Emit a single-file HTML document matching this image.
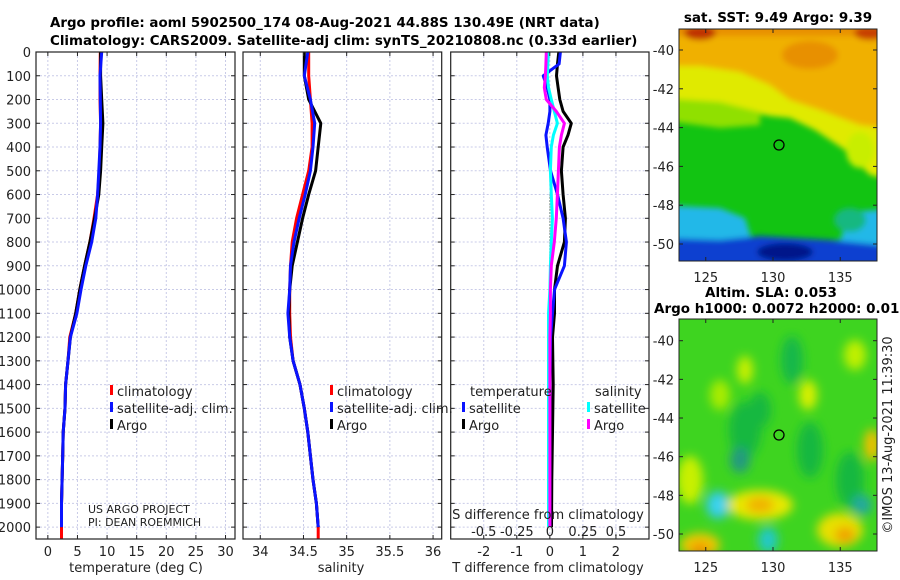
<!DOCTYPE html>
<html><head><meta charset="utf-8"><style>
html,body{margin:0;padding:0;background:#fff;}
svg{display:block;font-family:"DejaVu Sans","Liberation Sans",sans-serif;}
</style></head><body>
<svg id="fig" width="900" height="580" viewBox="0 0 900 580">
<defs>
<filter id="blur1" x="-20%" y="-20%" width="140%" height="140%"><feGaussianBlur stdDeviation="3"/></filter>
<filter id="blur2" x="-30%" y="-30%" width="160%" height="160%"><feGaussianBlur stdDeviation="5"/></filter>
<clipPath id="clipTop"><rect x="679" y="29" width="198" height="232"/></clipPath>
<clipPath id="clipBot"><rect x="679" y="319" width="198" height="232"/></clipPath>
</defs>
<g font-weight="bold" font-size="13.4">
<text x="50" y="27">Argo profile: aoml 5902500_174 08-Aug-2021 44.88S 130.49E (NRT data)</text>
<text x="50" y="45">Climatology: CARS2009. Satellite-adj clim: synTS_20210808.nc (0.33d earlier)</text>
</g>

<!-- SST map -->
<g clip-path="url(#clipTop)">
<rect x="679" y="29" width="198" height="232" fill="#12c412"/>
<g filter="url(#blur1)">
<polygon points="660,10 900,10 900,182 870,175 845,150 815,130 790,118 770,116 740,110 700,104 660,104" fill="#e0ea00"/>
<polygon points="660,10 900,10 900,130 860,125 820,110 790,100 770,85 740,72 700,66 660,66" fill="#f0b000"/>
<polygon points="660,10 900,10 900,36 660,36" fill="#e89000"/>
<ellipse cx="700" cy="33" rx="16" ry="7" fill="#c03000"/>
<ellipse cx="870" cy="33" rx="16" ry="7" fill="#c84000"/>
<ellipse cx="810" cy="55" rx="28" ry="14" fill="#e89000"/>
<polygon points="660,98 720,102 760,112 760,125 720,128 660,120" fill="#90e000"/>
<ellipse cx="860" cy="150" rx="14" ry="18" fill="#c8ee00"/>
<polygon points="660,205 720,208 745,218 752,240 840,240 850,212 900,208 900,280 660,280" fill="#20b8e8"/>
<polygon points="660,238 720,240 760,236 830,240 900,247 900,280 660,280" fill="#1040d0"/>
<ellipse cx="785" cy="252" rx="28" ry="9" fill="#00188a"/>
<ellipse cx="850" cy="220" rx="16" ry="12" fill="#18b880"/>
</g>
</g>
<rect x="679" y="29" width="198" height="232" fill="none" stroke="#222" stroke-width="1"/>
<circle cx="779" cy="145" r="5" fill="none" stroke="#000" stroke-width="1.3"/>
<text x="778" y="22" font-size="13.5" font-weight="bold" text-anchor="middle">sat. SST: 9.49 Argo: 9.39</text>

<!-- SLA map -->
<g clip-path="url(#clipBot)">
<rect x="679" y="319" width="198" height="232" fill="#3ed420"/>
<g filter="url(#blur2)">
<ellipse cx="745" cy="430" rx="16" ry="28" fill="#12b840"/>
<ellipse cx="792" cy="360" rx="11" ry="24" fill="#14b84a"/>
<ellipse cx="740" cy="460" rx="10" ry="13" fill="#209a80"/>
<ellipse cx="810" cy="450" rx="13" ry="28" fill="#14b840"/>
<ellipse cx="760" cy="410" rx="11" ry="18" fill="#14b840"/>
<ellipse cx="850" cy="480" rx="14" ry="28" fill="#14b840"/>
<ellipse cx="718" cy="505" rx="12" ry="14" fill="#30c8e8"/>
<ellipse cx="718" cy="505" rx="6" ry="7" fill="#40d8f0"/>
<ellipse cx="768" cy="540" rx="10" ry="13" fill="#20c8c8"/>
<ellipse cx="862" cy="505" rx="10" ry="10" fill="#20a8a0"/>
<ellipse cx="690" cy="480" rx="13" ry="24" fill="#c8f000"/>
<ellipse cx="760" cy="505" rx="33" ry="15" fill="#e8e800"/>
<ellipse cx="760" cy="505" rx="14" ry="8" fill="#f0b000"/>
<ellipse cx="700" cy="545" rx="20" ry="12" fill="#f0c800"/>
<ellipse cx="700" cy="550" rx="10" ry="7" fill="#f09000"/>
<ellipse cx="840" cy="530" rx="23" ry="17" fill="#e8e000"/>
<ellipse cx="845" cy="535" rx="10" ry="8" fill="#f0a000"/>
<ellipse cx="872" cy="445" rx="8" ry="16" fill="#f0c000"/>
<ellipse cx="808" cy="395" rx="9" ry="15" fill="#d8f000"/>
<ellipse cx="745" cy="370" rx="8" ry="14" fill="#c8f000"/>
<ellipse cx="855" cy="355" rx="11" ry="15" fill="#c0f000"/>
<ellipse cx="720" cy="395" rx="10" ry="15" fill="#a8ec00"/>
</g>
</g>
<rect x="679" y="319" width="198" height="232" fill="none" stroke="#222" stroke-width="1"/>
<circle cx="779" cy="435" r="5" fill="none" stroke="#000" stroke-width="1.3"/>
<text x="771" y="297" font-size="13.5" font-weight="bold" text-anchor="middle">Altim. SLA: 0.053</text>
<text x="654" y="313" font-size="13.5" font-weight="bold">Argo h1000: 0.0072 h2000: 0.018</text>
<text transform="translate(892,435) rotate(-90)" font-size="13" text-anchor="middle" fill="#222">©IMOS 13-Aug-2021 11:39:30</text>
<g id="axes"></g>
</svg>
<script>
// ---- data ----
const depth = [0,100,200,300,400,500,600,700,800,900,1000,1100,1200,1300,1400,1500,1600,1700,1800,1900,2000];
const tClim = [8.85,8.8,8.8,8.9,8.8,8.7,8.4,7.8,7.1,6.2,5.4,4.7,3.7,3.4,3.0,2.9,2.6,2.5,2.4,2.3,2.3];
const tSat  = [9.1,8.8,8.85,8.9,8.8,8.6,8.4,8.1,7.4,6.4,5.6,4.9,3.8,3.4,3.0,2.9,2.6,2.5,2.4,2.3,2.3];
const tArgo = [8.9,8.9,9.1,9.3,9.1,8.9,8.6,7.9,7.1,6.2,5.4,4.7,3.8,3.4,3.0,2.9,2.6,2.5,2.4,2.3,2.3];
const sClim = [34.56,34.56,34.58,34.60,34.60,34.56,34.49,34.42,34.37,34.35,34.34,34.34,34.35,34.38,34.46,34.51,34.55,34.58,34.61,34.65,34.67];
const sSat  = [34.55,34.51,34.58,34.63,34.61,34.58,34.52,34.45,34.39,34.35,34.34,34.32,34.34,34.38,34.46,34.51,34.55,34.58,34.61,34.65,34.67];
const sArgo = [34.51,34.51,34.56,34.70,34.67,34.64,34.56,34.49,34.43,34.37,34.34,34.33,34.34,34.38,34.46,34.51,34.55,34.58,34.61,34.65,34.67];
const depthDiff = [0,50,100,150,200,250,300,350,400,500,600,700,800,900,1000,1100,1200,1400,1600,1800,2000];
const dTArgo = [0.27,0.23,0.2,0.25,0.3,0.4,0.65,0.55,0.4,0.35,0.4,0.47,0.44,0.23,0.14,0.14,0.08,0.1,0.08,0.06,0.05];
const dTSat  = [0.32,0.28,-0.2,-0.08,0,0,-0.05,-0.12,-0.08,0.02,0.23,0.4,0.5,0.44,0.14,0.08,0.02,0,0,0,0];
const dSArgo = [-0.027,-0.03,-0.034,-0.042,-0.027,0.049,0.11,0.087,0.072,0.065,0.057,0.049,0.034,0.011,0.004,0.004,0,0,0,0,0];
const dSSat  = [-0.011,-0.015,-0.019,-0.01,0.011,0.034,0.057,0.027,0.011,0.004,0.011,0.019,0.011,0.004,0,-0.01,-0.01,-0.01,-0.01,-0.01,-0.01];
const depthTicks = [0,100,200,300,400,500,600,700,800,900,1000,1100,1200,1300,1400,1500,1600,1700,1800,1900,2000];
const tTicks = [0,5,10,15,20,25,30];
const sTicks = [34,34.5,35,35.5,36];
const sTickLabels = ["34","34.5","35","35.5","36"];
const dTTicks = [-2,-1,0,1,2];
const dSTicks = [-0.5,-0.25,0,0.25,0.5];
const latTicks = [-40,-42,-44,-46,-48,-50];
const lonTicks = [125,130,135];

const NS="http://www.w3.org/2000/svg";
const root=document.getElementById('axes');
function mk(tag,attrs,parent){const e=document.createElementNS(NS,tag);for(const k in attrs)e.setAttribute(k,attrs[k]);(parent||root).appendChild(e);return e;}
const Y0=52,Y1=539,D0=0,D1=2050;
function yD(d){return Y0+(d-D0)/(D1-D0)*(Y1-Y0);}
function lin(a,b,p,q){return v=>p+(v-a)/(b-a)*(q-p);}
const panels=[
 {name:'temperature',x0:36,x1:235,fx:lin(-2,31.6,36,235)},
 {name:'salinity',x0:243,x1:441.7,fx:lin(33.8,36.1,243,441.7)},
 {name:'difference',x0:450.7,x1:649,fx:lin(-3,3,450.7,649)}
];
panels.forEach(p=>{
 const g=mk('g',{});
 
 
 p.g=g;
 depthTicks.forEach(d=>{const l=mk('line',{x1:p.x0,x2:p.x1,y1:yD(d),y2:yD(d),stroke:'#c9cbe8','stroke-width':1,'stroke-dasharray':'2,2'},g);
  });
});
function vgrid(p,ticks,fx){ticks.forEach(v=>{const x=fx(v);
 const l=mk('line',{x1:x,x2:x,y1:Y0,y2:Y1,stroke:'#c9cbe8','stroke-width':1,'stroke-dasharray':'2,2'},p.g);
 });}
vgrid(panels[0],tTicks,panels[0].fx);
vgrid(panels[1],sTicks,panels[1].fx);
vgrid(panels[2],dTTicks,panels[2].fx);
function line(p,xs,ds,fx,color,name,w){
 const pts=xs.map((v,i)=>fx(v).toFixed(1)+','+yD(ds[i]).toFixed(1)).join(' ');
 const pl=mk('polyline',{points:pts,fill:'none',stroke:color,'stroke-width':w||3,'stroke-linejoin':'round'},p.g);
 
}
const dExt=depth.concat([2050]);
line(panels[0],tClim.concat([tClim[tClim.length-1]]),dExt,panels[0].fx,'#ff0000','temperature-climatology-line');
line(panels[0],tArgo,depth,panels[0].fx,'#000000','temperature-argo-line');
line(panels[0],tSat,depth,panels[0].fx,'#0a14ff','temperature-satellite-line');
line(panels[1],sClim.concat([sClim[sClim.length-1]]),dExt,panels[1].fx,'#ff0000','salinity-climatology-line');
line(panels[1],sArgo,depth,panels[1].fx,'#000000','salinity-argo-line');
line(panels[1],sSat,depth,panels[1].fx,'#0a14ff','salinity-satellite-line');
const fT=panels[2].fx, fS=v=>fT(v*4);
const z=mk('line',{x1:fT(0),x2:fT(0),y1:yD(600),y2:yD(2000),stroke:'#335533','stroke-width':1,'stroke-dasharray':'1,2'},panels[2].g);

line(panels[2],dTArgo,depthDiff,fT,'#000000','t-diff-argo-line');
line(panels[2],dTSat,depthDiff,fT,'#0a14ff','t-diff-satellite-line');
line(panels[2],dSSat,depthDiff,fS,'#00ffff','s-diff-satellite-line');
line(panels[2],dSArgo,depthDiff,fS,'#ff00ff','s-diff-argo-line');
panels.forEach(p=>{
 const r=mk('rect',{x:p.x0,y:Y0,width:p.x1-p.x0,height:Y1-Y0,fill:'none',stroke:'#222','stroke-width':1.2},p.g);
 
 depthTicks.forEach(d=>{const y=yD(d);
  mk('line',{x1:p.x0,x2:p.x0+4,y1:y,y2:y,stroke:'#222'},p.g);
  mk('line',{x1:p.x1-4,x2:p.x1,y1:y,y2:y,stroke:'#222'},p.g);});
});
function xticks(p,ticks,labels,fx,ly){ticks.forEach((v,i)=>{const x=fx(v);
 mk('line',{x1:x,x2:x,y1:Y1-4,y2:Y1,stroke:'#222'},p.g);
 mk('line',{x1:x,x2:x,y1:Y0,y2:Y0+4,stroke:'#222'},p.g);
 const t=mk('text',{x:x,y:ly,'font-size':13,'text-anchor':'middle',fill:'#222'},p.g);t.textContent=labels[i];
 });}
xticks(panels[0],tTicks,tTicks.map(String),panels[0].fx,556);
xticks(panels[1],sTicks,sTickLabels,panels[1].fx,556);
xticks(panels[2],dTTicks,dTTicks.map(String),fT,556);
dSTicks.forEach(v=>{const t=mk('text',{x:fS(v),y:536,'font-size':13,'text-anchor':'middle',fill:'#222'},panels[2].g);t.textContent=String(v);
 });
depthTicks.forEach(d=>{const t=mk('text',{x:31,y:yD(d)+5,'font-size':13,'text-anchor':'end',fill:'#222'});t.textContent=String(d);
 });
function txt(x,y,s,name,opts){const t=mk('text',Object.assign({x:x,y:y,'font-size':13,fill:'#222'},opts||{}));t.textContent=s;
 return t;}
txt(136,572,'temperature (deg C)','temperature-axis-title',{'text-anchor':'middle'});
txt(341,572,'salinity','salinity-axis-title',{'text-anchor':'middle'});
txt(548,572,'T difference from climatology','t-diff-axis-title',{'text-anchor':'middle'});
txt(548,519,'S difference from climatology','s-diff-axis-title',{'text-anchor':'middle'});
txt(88,513,'US ARGO PROJECT','project-credit',{'font-size':11});
txt(88,526,'PI: DEAN ROEMMICH','pi-credit',{'font-size':11});
function legend(x,y,color,label,name){
 const g=mk('g',{});
 mk('rect',{x:x,y:y-11,width:3,height:10,fill:color},g);
 const t=mk('text',{x:x+7,y:y,'font-size':13,fill:'#222'},g);t.textContent=label;}
legend(110,396,'#ff0000','climatology','legend-temperature-climatology');
legend(110,413,'#0a14ff','satellite-adj. clim.','legend-temperature-satellite');
legend(110,430,'#000000','Argo','legend-temperature-argo');
legend(330,396,'#ff0000','climatology','legend-salinity-climatology');
legend(330,413,'#0a14ff','satellite-adj. clim.','legend-salinity-satellite');
legend(330,430,'#000000','Argo','legend-salinity-argo');
txt(470,396,'temperature','legend-diff-temperature-header');
legend(462,413,'#0a14ff','satellite','legend-diff-t-satellite');
legend(462,430,'#000000','Argo','legend-diff-t-argo');
txt(595,396,'salinity','legend-diff-salinity-header');
legend(587,413,'#00ffff','satellite','legend-diff-s-satellite');
legend(587,430,'#ff00ff','Argo','legend-diff-s-argo');
function mapAxes(top,lat0y,latStep,labelY,nm){
 latTicks.forEach(v=>{const y=lat0y+(-40-v)*latStep;
  mk('line',{x1:679,x2:683,y1:y,y2:y,stroke:'#222'});mk('line',{x1:873,x2:877,y1:y,y2:y,stroke:'#222'});
  txt(674,y+5,String(v),nm+'-lat-label',{'text-anchor':'end'});});
 lonTicks.forEach(v=>{const x=773+(v-130)*13.45;
  mk('line',{x1:x,x2:x,y1:top+228,y2:top+232,stroke:'#222'});mk('line',{x1:x,x2:x,y1:top,y2:top+4,stroke:'#222'});
  txt(x,labelY,String(v),nm+'-lon-label',{'text-anchor':'middle'});});
}
mapAxes(29,50,19.4,282,'sst-map');
mapAxes(319,340.7,19.33,572,'sla-map');
</script>
</body></html>
